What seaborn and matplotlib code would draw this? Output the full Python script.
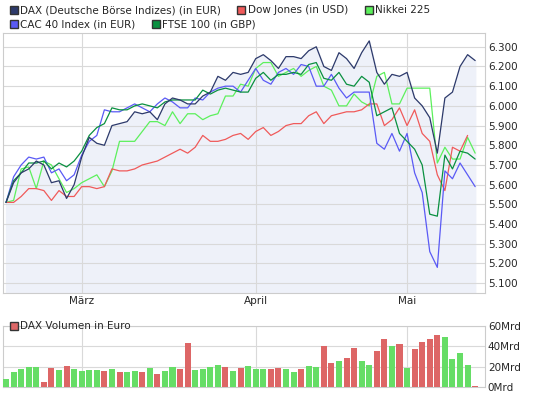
import numpy as np
import pandas as pd
import matplotlib
matplotlib.use("Agg")
import matplotlib.pyplot as plt
import seaborn as sns
from matplotlib.lines import Line2D
from matplotlib.ticker import FuncFormatter

dax = [5.51, 5.61, 5.66, 5.68, 5.72, 5.70, 5.61, 5.62, 5.53, 5.60, 5.74, 5.84, 5.81, 5.80, 5.90,
       5.91, 5.92, 5.97, 5.96, 5.97, 5.93, 6.01, 6.04, 6.03, 6.01, 6.01, 6.05, 6.07, 6.15, 6.13,
       6.17, 6.16, 6.17, 6.24, 6.26, 6.23, 6.19, 6.25, 6.25, 6.24, 6.28, 6.30, 6.20, 6.18, 6.27,
       6.24, 6.19, 6.27, 6.33, 6.17, 6.11, 6.16, 6.15, 6.17, 6.04, 6.00, 5.94, 5.76, 6.04, 6.07,
       6.20, 6.26, 6.23]
cac = [5.51, 5.64, 5.70, 5.74, 5.73, 5.74, 5.66, 5.68, 5.62, 5.65, 5.75, 5.82, 5.85, 5.98, 5.97,
       5.97, 5.99, 6.01, 5.99, 5.97, 6.01, 6.04, 6.02, 5.99, 5.99, 6.04, 6.03, 6.07, 6.09, 6.10,
       6.10, 6.07, 6.13, 6.19, 6.13, 6.11, 6.17, 6.19, 6.16, 6.21, 6.20, 6.10, 6.10, 6.16, 6.09,
       6.04, 6.07, 6.07, 6.07, 5.81, 5.78, 5.86, 5.77, 5.86, 5.66, 5.56, 5.26, 5.18, 5.67, 5.63,
       5.71, 5.65, 5.59]
ftse = [5.51, 5.62, 5.66, 5.71, 5.71, 5.72, 5.68, 5.71, 5.69, 5.72, 5.77, 5.85, 5.89, 5.91, 5.99,
        5.98, 5.98, 6.00, 6.01, 6.00, 5.99, 6.02, 6.03, 6.03, 6.03, 6.03, 6.08, 6.06, 6.08, 6.09,
        6.08, 6.07, 6.07, 6.14, 6.17, 6.13, 6.16, 6.16, 6.17, 6.16, 6.21, 6.22, 6.14, 6.13, 6.17,
        6.11, 6.10, 6.15, 6.12, 5.95, 5.97, 5.99, 5.86, 5.82, 5.78, 5.70, 5.45, 5.44, 5.75, 5.68,
        5.77, 5.76, 5.73]
nikkei = [5.51, 5.52, 5.68, 5.69, 5.58, 5.72, 5.70, 5.63, 5.56, 5.58, 5.61, 5.63, 5.65, 5.59, 5.67,
          5.82, 5.82, 5.82, 5.87, 5.92, 5.92, 5.90, 5.97, 5.91, 5.96, 5.96, 5.93, 5.95, 5.96, 6.05,
          6.05, 6.11, 6.10, 6.19, 6.22, 6.22, 6.15, 6.17, 6.19, 6.15, 6.18, 6.20, 6.10, 6.08, 6.00,
          6.00, 6.06, 6.02, 6.00, 6.15, 6.17, 6.01, 6.01, 6.09, 6.09, 6.09, 6.09, 5.71, 5.79, 5.73,
          5.73, 5.84, 5.76]
dow = [5.51, 5.51, 5.54, 5.58, 5.58, 5.57, 5.52, 5.57, 5.54, 5.54, 5.59, 5.59, 5.58, 5.59, 5.68,
       5.67, 5.67, 5.68, 5.70, 5.71, 5.72, 5.74, 5.76, 5.78, 5.76, 5.79, 5.85, 5.82, 5.82, 5.83,
       5.85, 5.86, 5.83, 5.87, 5.89, 5.85, 5.87, 5.90, 5.91, 5.91, 5.95, 5.97, 5.91, 5.95, 5.96,
       5.97, 5.97, 5.98, 6.01, 6.01, 5.90, 5.93, 5.99, 5.90, 5.98, 5.86, 5.82, 5.65, 5.57, 5.79,
       5.77, 5.85, 5.79]
# Dow ends one day earlier
dow = dow[:62] + [np.nan]

volume = [8, 15, 18, 20, 20, 5, 19, 17, 21, 18, 16, 17, 17, 16, 18, 15, 15, 16, 15, 19, 13, 16,
          20, 18, 43, 17, 18, 20, 22, 20, 16, 19, 21, 18, 18, 18, 19, 18, 15, 18, 21, 20, 40, 24,
          26, 29, 38, 26, 22, 35, 47, 40, 42, 19, 37, 44, 47, 51, 49, 28, 33, 22, 1]
vol_up = [1, 1, 1, 1, 1, 0, 0, 1, 0, 1, 1, 1, 1, 0, 1, 0, 1, 1, 0, 1, 0, 1, 1, 0, 0, 1, 1, 1,
          1, 0, 1, 0, 1, 1, 1, 0, 0, 1, 1, 0, 1, 1, 0, 0, 1, 0, 0, 1, 1, 0, 0, 1, 0, 1, 0, 0, 0,
          0, 1, 1, 1, 1, 0]

month_pos = [10, 33, 53]
month_names = ["März", "April", "Mai"]

names = ["DAX (Deutsche Börse Indizes) (in EUR)", "Dow Jones (in USD)", "Nikkei 225",
         "CAC 40 Index (in EUR)", "FTSE 100 (in GBP)"]
colors = {"DAX": "#2d3a6b", "Dow": "#f05a5a", "Nikkei": "#5cf05c", "CAC": "#5a5af5", "FTSE": "#0a9040"}

sns.set_style("white")
plt.rcParams["font.family"] = ["DejaVu Sans"]
plt.rcParams["font.size"] = 7.5

fig = plt.figure(figsize=(5.45, 4.08), dpi=100)
ax = fig.add_axes([3 / 545, 1 - 293 / 408, 482 / 545, 260 / 408])
ax2 = fig.add_axes([3 / 545, 1 - 387 / 408, 482 / 545, 61 / 408])

x = np.arange(len(dax))
ymin = 5050
ax.fill_between(x, np.array(dax) * 1000, ymin, color="#eef1f9", zorder=0)
df = pd.DataFrame({"x": x, "DAX": dax, "Dow": dow, "Nikkei": nikkei, "CAC": cac, "FTSE": ftse})
for key in ["Nikkei", "Dow", "CAC", "FTSE", "DAX"]:
    sns.lineplot(x=df["x"], y=df[key] * 1000, ax=ax, color=colors[key], lw=0.9, zorder=3)

ax.set_xlim(-0.4, 63.3)
ax.set_ylim(ymin, 6370)
ax.set_yticks(np.arange(5100, 6301, 100))
ax.yaxis.set_major_formatter(FuncFormatter(lambda v, p: f"{v / 1000:.3f}"))
ax.yaxis.tick_right()
ax.set_xticks(month_pos)
ax.set_xticklabels(month_names)
ax.grid(True, color="#d9d9d9", lw=0.8)
ax.set_xlabel("")
ax.set_ylabel("")
ax.tick_params(length=0, labelsize=7.5, pad=2)
for s in ax.spines.values():
    s.set_color("#cccccc")

# volume bars
vcol = ["#66dd66" if u else "#dd6666" for u in vol_up]
vdf = pd.DataFrame({"day": x, "vol": volume})
sns.barplot(data=vdf, x="day", y="vol", hue="day", palette=vcol, legend=False, dodge=False,
            ax=ax2, width=0.8, saturation=1, zorder=3, linewidth=0)
ax2.set_xlim(-0.4, 63.3)
ax2.set_ylim(0, 60)
ax2.set_yticks([0, 20, 40, 60])
ax2.set_yticklabels(["0Mrd", "20Mrd", "40Mrd", "60Mrd"])
ax2.yaxis.tick_right()
ax2.set_xticks(month_pos)
ax2.set_xticklabels([])
ax2.set_xlabel("")
ax2.set_ylabel("")
ax2.grid(True, color="#d9d9d9", lw=0.8)
ax2.tick_params(length=0, labelsize=7.5, pad=2)
for s in ax2.spines.values():
    s.set_color("#cccccc")

def sq(c):
    return Line2D([], [], marker="s", ls="", markersize=6, markerfacecolor=c, markeredgecolor="#333333")

keys = ["DAX", "Dow", "Nikkei", "CAC", "FTSE"]
fig.legend([sq(colors[k]) for k in keys[:3]], names[:3], loc="upper left", ncol=3,
           bbox_to_anchor=(0, 1.01), frameon=False, handletextpad=0.2, columnspacing=1.6,
           fontsize=7.5, handlelength=0.8)
fig.legend([sq(colors[k]) for k in keys[3:]], names[3:], loc="upper left", ncol=2,
           bbox_to_anchor=(0, 0.975), frameon=False, handletextpad=0.2, columnspacing=1.6,
           fontsize=7.5, handlelength=0.8)
fig.legend([sq("#dd6666")], ["DAX Volumen in Euro"], loc="upper left",
           bbox_to_anchor=(0, 1 - 312 / 408), frameon=False, handletextpad=0.2,
           fontsize=7.5, handlelength=0.8)

fig.savefig("out.png", dpi=100)
